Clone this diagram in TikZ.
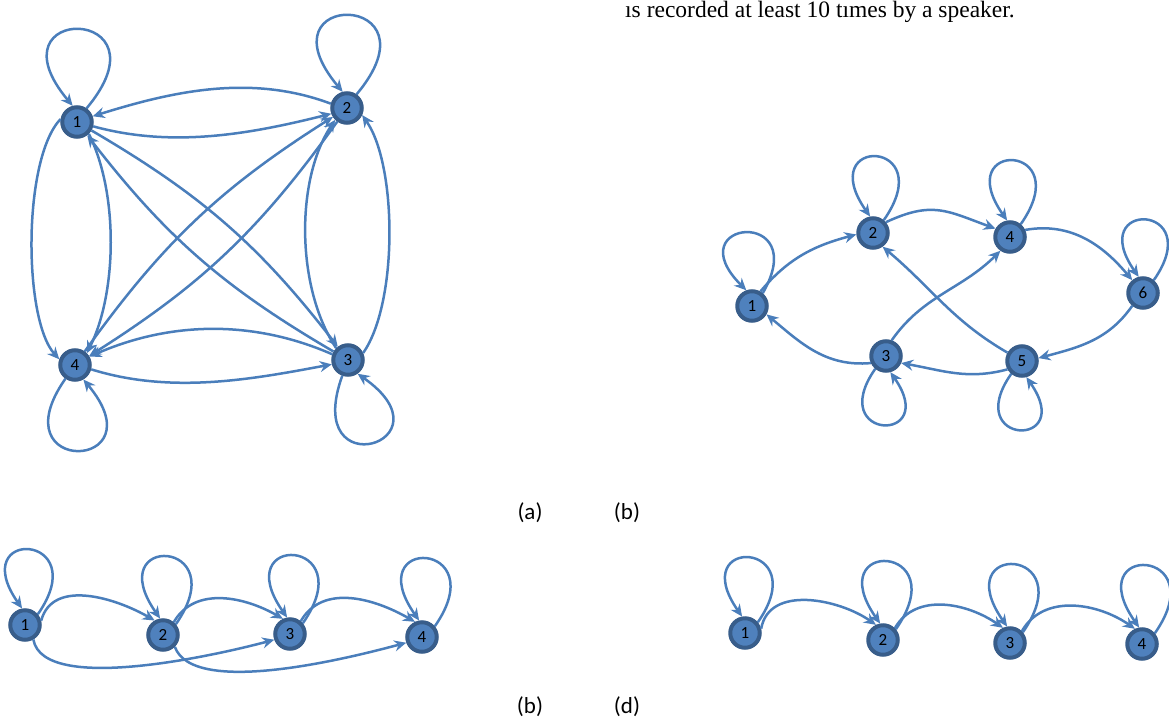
\documentclass[tikz,border=0pt]{standalone}
\usepackage{fontspec}
\setmainfont{Liberation Serif}
\newfontfamily\calib{Carlito}
\usetikzlibrary{arrows.meta}
\definecolor{edgeblue}{HTML}{4A7EBB}
\definecolor{nodefill}{HTML}{4F81BD}
\definecolor{noderim}{HTML}{385D8A}
\newcommand\loopat[6]{\draw[arr] (#1.#2) to[out=#3,in=#5,distance=#6] (#1.#4);}
\begin{document}
\begin{tikzpicture}[x=1pt,y=1pt,
 st/.style={circle,draw=noderim,fill=nodefill,line width=4pt,minimum size=29.5pt,inner sep=0pt,font=\calib\fontsize{17}{17}\selectfont},
 arr/.style={draw=edgeblue,line width=2.5pt,-{Stealth[length=12pt,width=11pt,inset=4pt]}},
 lbl/.style={font=\calib\fontsize{23}{23}\selectfont,inner sep=0pt}]
\useasboundingbox (0,0) rectangle (1169,-720);

% ---------- (a) ----------
\node[st] (a1) at (77,-122) {1};
\node[st] (a2) at (347,-108) {2};
\node[st] (a3) at (348,-360) {3};
\node[st] (a4) at (75,-365) {4};
\loopat{a1}{55}{50}{105}{130}{135}
\loopat{a2}{55}{50}{105}{130}{135}
\loopat{a4}{-125}{-125}{-60}{-50}{120}
\loopat{a3}{-110}{-110}{-55}{-35}{120}
\draw[arr] (a2.165) .. controls +(-80,30) and +(80,25) .. (a1.20);
\draw[arr] (a1.-15) .. controls +(80,-22) and +(-80,-20) .. (a2.-160);
\draw[arr] (a3.160) .. controls +(-80,35) and +(80,35) .. (a4.30);
\draw[arr] (a4.-15) .. controls +(80,-25) and +(-80,-15) .. (a3.-165);
\draw[arr] (a1.170) .. controls +(-38,-40) and +(-36,40) .. (a4.160);
\draw[arr] (a1.-45) .. controls +(30,-60) and +(30,60) .. (a4.45);
\draw[arr] (a3.25) .. controls +(35,50) and +(35,-50) .. (a2.-25);
\draw[arr] (a3.135) .. controls +(-40,60) and +(-40,-60) .. (a2.-135);
\draw[arr] (a1) to[bend left=11] (a3);
\draw[arr] (a3) to[bend left=11] (a1);
\draw[arr] (a2) to[bend left=11] (a4);
\draw[arr] (a4) to[bend left=11] (a2);

% ---------- (b) top right ----------
\node[st] (b1) at (752,-306) {1};
\node[st] (b2) at (873,-233) {2};
\node[st] (b4) at (1010,-237) {4};
\node[st] (b6) at (1143,-293) {6};
\node[st] (b3) at (886,-356) {3};
\node[st] (b5) at (1022,-361) {5};
\loopat{b1}{50}{60}{110}{135}{100}
\loopat{b2}{50}{55}{100}{125}{100}
\loopat{b4}{50}{55}{100}{125}{100}
\loopat{b6}{50}{55}{105}{125}{95}
\loopat{b3}{-130}{-125}{-75}{-55}{88}
\loopat{b5}{-130}{-125}{-75}{-55}{88}
\draw[arr] (b1.60) to[out=50,in=195] (b2.185);
\draw[arr] (b2.40) to[out=25,in=160,looseness=1.2] (b4.150);
\draw[arr] (b4.25) to[out=10,in=130] (b6.130);
\draw[arr] (b6.-130) to[out=-125,in=15] (b5.10);
\draw[arr] (b5.-150) to[out=-165,in=-10] (b3.-25);
\draw[arr] (b3.-155) to[out=185,in=-40] (b1.-30);
\draw[arr] (b3.70) to[out=55,in=-135] (b4.-125);
\draw[arr] (b5.150) to[out=150,in=-40] (b2.-55);

% ---------- (c) bottom left ----------
\node[st] (c1) at (25,-625) {1};
\node[st] (c2) at (163,-635) {2};
\node[st] (c3) at (290,-634) {3};
\node[st] (c4) at (422,-637) {4};
\loopat{c1}{40}{55}{100}{125}{100}
\loopat{c2}{40}{55}{100}{125}{105}
\loopat{c3}{40}{55}{100}{125}{105}
\loopat{c4}{40}{55}{100}{125}{105}
\draw[arr] (c1.15) to[out=75,in=150] (c2.120);
\draw[arr] (c2.50) to[out=60,in=150] (c3.115);
\draw[arr] (c3.50) to[out=60,in=150] (c4.115);
\draw[arr] (c1.-60) to[out=-80,in=195,looseness=0.6] (c3.-160);
\draw[arr] (c2.-45) to[out=-70,in=195,looseness=0.6] (c4.-160);

% ---------- (d) bottom right ----------
\node[st] (d1) at (745,-633) {1};
\node[st] (d2) at (883,-640) {2};
\node[st] (d3) at (1010,-643) {3};
\node[st] (d4) at (1142,-644) {4};
\loopat{d1}{40}{55}{100}{125}{100}
\loopat{d2}{40}{55}{100}{125}{105}
\loopat{d3}{40}{55}{100}{125}{105}
\loopat{d4}{40}{55}{100}{125}{105}
\draw[arr] (d1.15) to[out=80,in=145] (d2.115);
\draw[arr] (d2.45) to[out=60,in=145] (d3.115);
\draw[arr] (d3.45) to[out=60,in=145] (d4.115);

% ---------- labels ----------
\node[lbl] (la) at (530,-513) {(a)};
\node[lbl] (lb) at (627,-513) {(b)};
\node[lbl] (lc) at (530,-707) {(b)};
\node[lbl] (ld) at (627,-707) {(d)};
\node[font=\fontsize{23.5}{23.5}\selectfont,anchor=base west,inner sep=0pt] (cap) at (625,-17) {ıs recorded at least 10 tımes by a speaker.};
\end{tikzpicture}
\end{document}
